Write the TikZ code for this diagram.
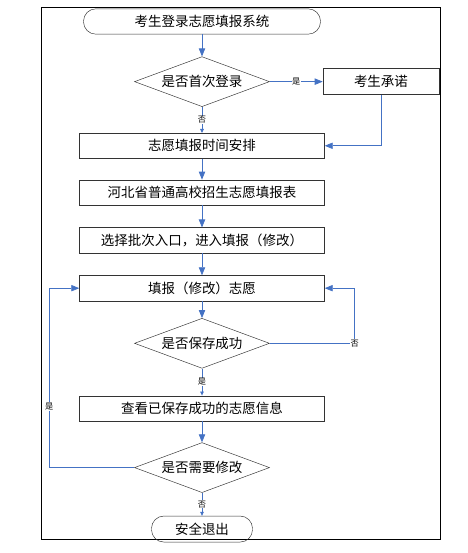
\documentclass[tikz,border=0pt]{standalone}
\usepackage{fontspec}
\newfontfamily\cjk{Noto Sans CJK SC}
\usetikzlibrary{shapes.geometric, arrows.meta, positioning}
\definecolor{flowblue}{RGB}{68,114,196}

\begin{document}
\begin{tikzpicture}[
    node distance=0.66cm,
    font=\cjk\fontsize{11.5}{13}\selectfont,
    term/.style={rectangle, draw=black!80, rounded corners=0.37cm, minimum width=7.11cm, minimum height=0.76cm, inner sep=0pt},
    proc/.style={rectangle, draw=black!80, minimum width=7.35cm, minimum height=0.76cm, inner sep=0pt},
    decision/.style={diamond, draw=black!80, aspect=2.7, minimum width=4.05cm, minimum height=1.5cm, inner sep=0pt},
    arrow/.style={-{Triangle[length=2.4mm,width=1.9mm]}, draw=flowblue, semithick},
    smallarrow/.style={-{Triangle[length=1.2mm,width=1.1mm]}, draw=flowblue, semithick},
    lbl/.style={fill=white, inner sep=0.5pt, font=\cjk\fontsize{7}{8}\selectfont}
]
    \useasboundingbox (0,0) rectangle (14.04,-16.59);
    \draw[black, thick] (1.23,-0.21) rectangle (13.2,-16.17);

    \node[term] (start) at (6.06,-0.645) {考生登录志愿填报系统};
    \node[decision, below=0.66cm of start] (first) {是否首次登录};
    \node[proc, right=1.59cm of first, minimum width=3.48cm, minimum height=0.78cm] (promise) {考生承诺};
    \node[proc, below=0.78cm of first] (time) {志愿填报时间安排};
    \node[proc, below=0.63cm of time] (table) {河北省普通高校招生志愿填报表};
    \node[proc, below=of table] (batch) {选择批次入口，进入填报（修改）};
    \node[proc, below=of batch] (fill) {填报（修改）志愿};
    \node[decision, below=0.51cm of fill] (saved) {是否保存成功};
    \node[proc, below=0.81cm of saved] (view) {查看已保存成功的志愿信息};
    \node[decision, below=0.63cm of view] (modify) {是否需要修改};
    \node[term, below=0.69cm of modify, minimum width=3.03cm, minimum height=0.78cm] (quit) {安全退出};

    \coordinate[right=2.55cm of saved.east] (retry);
    \coordinate[left=2.55cm of modify.west] (back);

    \draw[arrow] (start) -- (first);
    \draw[arrow] (first) -- node[lbl] {是} (promise);
    \draw[smallarrow] (first) -- node[lbl] {否} (time);
    \draw[arrow] (promise) |- (time);
    \draw[arrow] (time) -- (table);
    \draw[arrow] (table) -- (batch);
    \draw[arrow] (batch) -- (fill);
    \draw[arrow] (fill) -- (saved);
    \draw[arrow] (saved.east) -- (retry) node[lbl] {否} |- (fill.east);
    \draw[smallarrow] (saved) -- node[lbl] {是} (view);
    \draw[arrow] (view) -- (modify);
    \draw[arrow] (modify.west) -- (back) |- node[lbl, pos=0.17] {是} (fill.west);
    \draw[smallarrow] (modify) -- node[lbl] {否} (quit);
\end{tikzpicture}
\end{document}
